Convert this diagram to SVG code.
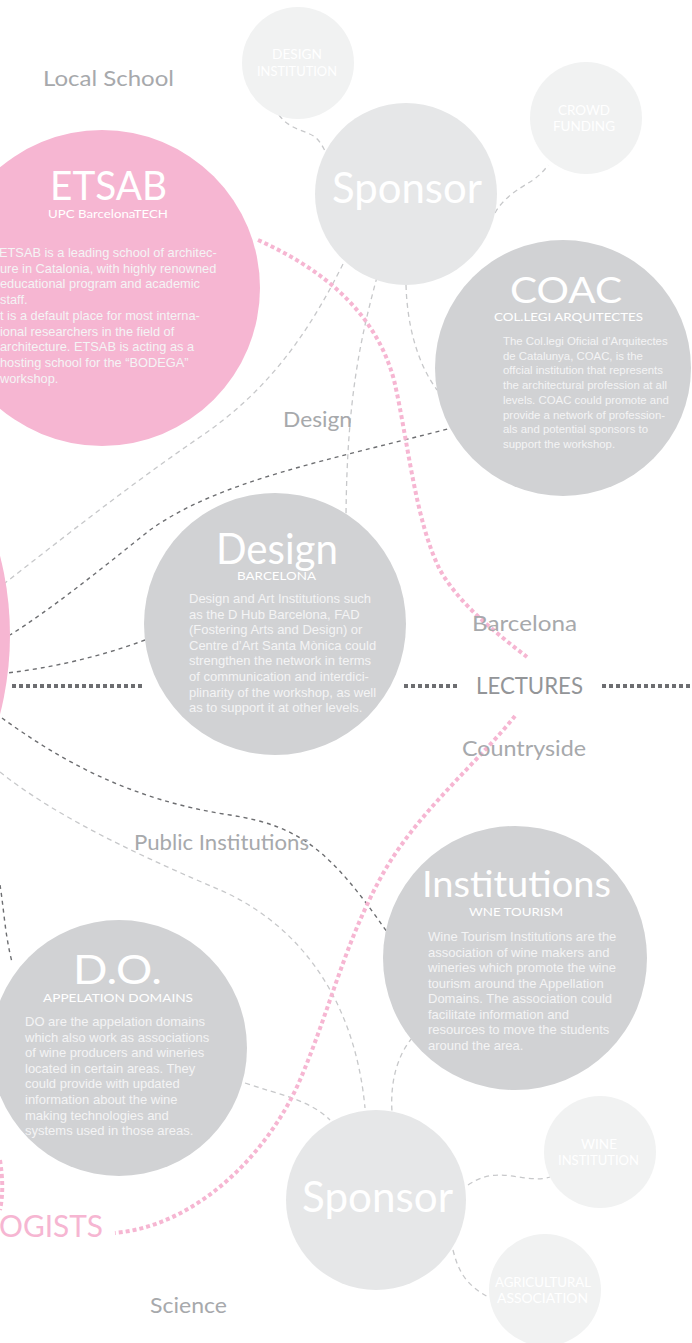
<svg xmlns="http://www.w3.org/2000/svg" width="692" height="1343" viewBox="0 0 692 1343">
<style>
.pink{fill:#f6b6d2}
.mid{fill:#d1d2d4}
.spon{fill:#e6e7e8}
.small{fill:#f1f2f2}
.head{font-family:Lato,"Open Sans",sans-serif;fill:#ffffff;text-anchor:middle}
.sub{font-family:Lato,"Open Sans",sans-serif;fill:#ffffff;text-anchor:middle}
.body{font-family:"Liberation Sans",Arial,sans-serif;fill:#f4f4f5}
.lbl{font-family:Lato,"Open Sans",sans-serif;fill:#a7a9ac;font-size:21px}
.tiny{font-family:Lato,"Open Sans",sans-serif;fill:#ffffff;font-size:13px;text-anchor:middle}
.dk{fill:none;stroke:#6d6e71;stroke-width:1.4;stroke-dasharray:4 4}
.lt{fill:none;stroke:#c7c8ca;stroke-width:1.3;stroke-dasharray:5 4}
.pk{fill:none;stroke:#f6b6d2;stroke-width:4;stroke-dasharray:4 3}
.lec{fill:none;stroke:#6d6e71;stroke-width:4;stroke-dasharray:4 3}
</style>
<rect width="692" height="1343" fill="#ffffff"/>
<g id="connectors">
<path class="lt" d="M343,264 C310,330 270,390 200,437 C130,485 60,540 5,583"/>
<path class="lt" d="M377,277 C360,340 347,400 346,516"/>
<path class="lt" d="M406,285 C407,320 415,360 437,390"/>
<path class="lt" d="M279,115 C290,130 305,130 315,137 C320,141 323,147 326,153"/>
<path class="lt" d="M495,213 C503,198 520,188 530,182 C538,177 544,171 548,165"/>
<path class="lt" d="M0,772 C60,820 150,860 220,890 C300,925 355,1000 365,1108"/>
<path class="lt" d="M245,1083 C280,1095 310,1100 330,1120"/>
<path class="lt" d="M412,1038 C398,1055 390,1080 392,1112"/>
<path class="lt" d="M468,1185 C480,1177 490,1175 500,1175 C515,1175 535,1182 550,1177"/>
<path class="lt" d="M453,1250 C458,1270 465,1285 490,1298"/>
<path class="dk" d="M455,427 C330,460 220,480 150,530 C100,570 50,610 10,635"/>
<path class="dk" d="M145,640 C100,657 50,668 7,673"/>
<path class="dk" d="M2,718 C60,760 130,800 230,815 C300,826 330,850 387,932"/>
<path class="dk" d="M0,885 C4,910 5,935 12,962"/>
<path class="pk" d="M258,240 C320,268 375,310 394,380 C408,440 415,520 440,570 C460,605 495,632 527,657"/>
<path class="pk" d="M515,716 C480,760 420,810 385,870 C345,940 330,1010 300,1080 C270,1150 200,1225 115,1233"/>
<path class="pk" d="M0,1160 C3,1180 3,1195 0,1210"/>
<path class="lec" d="M12,686 H143"/>
<path class="lec" d="M404,686 H458"/>
<path class="lec" d="M602,686 H692"/>
</g>
<g id="left-pink"><circle class="pink" cx="-310" cy="635" r="320"/></g>
<g id="etsab">
<circle class="pink" cx="102" cy="288" r="158"/>
<text class="head" x="108.5" y="200" font-size="40" textLength="117" lengthAdjust="spacingAndGlyphs">ETSAB</text>
<text class="sub" x="108" y="218" font-size="12" textLength="120" lengthAdjust="spacingAndGlyphs">UPC BarcelonaTECH</text>
<text class="body" font-size="12.8">
<tspan x="-1" y="257">ETSAB is a leading school of architec-</tspan>
<tspan x="0" y="272.7">ure in Catalonia, with highly renowned</tspan>
<tspan x="0" y="288.4">educational program and academic</tspan>
<tspan x="0" y="304.1">staff.</tspan>
<tspan x="0" y="319.8">t is a default place for most interna-</tspan>
<tspan x="0" y="335.5">ional researchers in the field of</tspan>
<tspan x="0" y="351.2">architecture. ETSAB is acting as a</tspan>
<tspan x="0" y="366.9">hosting school for the “BODEGA”</tspan>
<tspan x="0" y="382.6">workshop.</tspan>
</text>
</g>
<g id="design-institution">
<circle class="small" cx="298" cy="63" r="56"/>
<text class="tiny" x="297" y="59" textLength="50" lengthAdjust="spacingAndGlyphs">DESIGN</text>
<text class="tiny" x="297" y="76" textLength="80" lengthAdjust="spacingAndGlyphs">INSTITUTION</text>
</g>
<g id="crowd-funding">
<circle class="small" cx="586" cy="118" r="56"/>
<text class="tiny" x="584" y="115" textLength="52" lengthAdjust="spacingAndGlyphs">CROWD</text>
<text class="tiny" x="584" y="131" textLength="62" lengthAdjust="spacingAndGlyphs">FUNDING</text>
</g>
<g id="sponsor-top">
<circle class="spon" cx="406" cy="194" r="91"/>
<text class="head" x="407" y="203" font-size="43" textLength="150" lengthAdjust="spacingAndGlyphs">Sponsor</text>
</g>
<g id="coac">
<circle class="mid" cx="563" cy="368" r="128"/>
<text class="head" x="566" y="303" font-size="37" textLength="112" lengthAdjust="spacingAndGlyphs">COAC</text>
<text class="sub" x="568.5" y="321" font-size="11" textLength="149" lengthAdjust="spacingAndGlyphs">COL.LEGI ARQUITECTES</text>
<text class="body" font-size="11.4">
<tspan x="503" y="345">The Col.legi Oficial d’Arquitectes</tspan>
<tspan x="503" y="359.7">de Catalunya, COAC, is the</tspan>
<tspan x="503" y="374.4">offcial institution that represents</tspan>
<tspan x="503" y="389.1">the architectural profession at all</tspan>
<tspan x="503" y="403.8">levels. COAC could promote and</tspan>
<tspan x="503" y="418.5">provide a network of profession-</tspan>
<tspan x="503" y="433.2">als and potential sponsors to</tspan>
<tspan x="503" y="447.9">support the workshop.</tspan>
</text>
</g>
<g id="design">
<circle class="mid" cx="275" cy="624" r="131"/>
<text class="sub" x="276.5" y="580" font-size="11.5" textLength="79" lengthAdjust="spacingAndGlyphs">BARCELONA</text>
<text class="head" x="277" y="564" font-size="42" textLength="122" lengthAdjust="spacingAndGlyphs">Design</text>
<text class="body" font-size="13">
<tspan x="189" y="603">Design and Art Institutions such</tspan>
<tspan x="189" y="618.6">as the D Hub Barcelona, FAD</tspan>
<tspan x="189" y="634.2">(Fostering Arts and Design) or</tspan>
<tspan x="189" y="649.8">Centre d’Art Santa Mònica could</tspan>
<tspan x="189" y="665.4">strengthen the network in terms</tspan>
<tspan x="189" y="681">of communication and interdici-</tspan>
<tspan x="189" y="696.6">plinarity of the workshop, as well</tspan>
<tspan x="189" y="712.2">as to support it at other levels.</tspan>
</text>
</g>
<g id="institutions">
<circle class="mid" cx="515" cy="958" r="132"/>
<text class="head" x="516.5" y="897" font-size="37" textLength="189" lengthAdjust="spacingAndGlyphs">Institutions</text>
<text class="sub" x="516" y="916" font-size="11" textLength="94" lengthAdjust="spacingAndGlyphs">WNE TOURISM</text>
<text class="body" font-size="13">
<tspan x="428" y="941">Wine Tourism Institutions are the</tspan>
<tspan x="428" y="956.5">association of wine makers and</tspan>
<tspan x="428" y="972">wineries which promote the wine</tspan>
<tspan x="428" y="987.5">tourism around the Appellation</tspan>
<tspan x="428" y="1003">Domains. The association could</tspan>
<tspan x="428" y="1018.5">facilitate information and</tspan>
<tspan x="428" y="1034">resources to move the students</tspan>
<tspan x="428" y="1049.5">around the area.</tspan>
</text>
</g>
<g id="do">
<circle class="mid" cx="119" cy="1048" r="128"/>
<text class="head" x="117.5" y="984" font-size="40" textLength="89" lengthAdjust="spacingAndGlyphs">D.O.</text>
<text class="sub" x="118" y="1002" font-size="11.5" textLength="150" lengthAdjust="spacingAndGlyphs">APPELATION DOMAINS</text>
<text class="body" font-size="13">
<tspan x="25" y="1026">DO are the appelation domains</tspan>
<tspan x="25" y="1041.6">which also work as associations</tspan>
<tspan x="25" y="1057.2">of wine producers and wineries</tspan>
<tspan x="25" y="1072.8">located in certain areas. They</tspan>
<tspan x="25" y="1088.4">could provide with updated</tspan>
<tspan x="25" y="1104">information about the wine</tspan>
<tspan x="25" y="1119.6">making technologies and</tspan>
<tspan x="25" y="1135.2">systems used in those areas.</tspan>
</text>
</g>
<g id="sponsor-bottom">
<circle class="spon" cx="376" cy="1200" r="90"/>
<text class="head" x="377.5" y="1212" font-size="43" textLength="151" lengthAdjust="spacingAndGlyphs">Sponsor</text>
</g>
<g id="wine-institution">
<circle class="small" cx="600" cy="1152" r="56"/>
<text class="tiny" x="599" y="1149" textLength="36" lengthAdjust="spacingAndGlyphs">WINE</text>
<text class="tiny" x="598.5" y="1165" textLength="81" lengthAdjust="spacingAndGlyphs">INSTITUTION</text>
</g>
<g id="agricultural-association">
<circle class="small" cx="545" cy="1290" r="56"/>
<text class="tiny" x="543" y="1287" textLength="96" lengthAdjust="spacingAndGlyphs">AGRICULTURAL</text>
<text class="tiny" x="542.5" y="1303" textLength="91" lengthAdjust="spacingAndGlyphs">ASSOCIATION</text>
</g>
<g id="labels">
<text class="lbl" x="43" y="86" textLength="131" lengthAdjust="spacingAndGlyphs">Local School</text>
<text class="lbl" x="283" y="427" textLength="69" lengthAdjust="spacingAndGlyphs">Design</text>
<text class="lbl" x="472" y="631" textLength="105" lengthAdjust="spacingAndGlyphs">Barcelona</text>
<text class="lbl" x="476" y="694" style="font-size:24px;fill:#939598" textLength="107" lengthAdjust="spacingAndGlyphs">LECTURES</text>
<text class="lbl" x="462" y="756" textLength="124" lengthAdjust="spacingAndGlyphs">Countryside</text>
<text class="lbl" x="134" y="850" textLength="175" lengthAdjust="spacingAndGlyphs">Public Institutions</text>
<text class="lbl" x="150" y="1313" textLength="77" lengthAdjust="spacingAndGlyphs">Science</text>
<text class="lbl" x="-1" y="1237" style="font-size:30px;fill:#f6b6d2" textLength="104" lengthAdjust="spacingAndGlyphs">OGISTS</text>
</g>
</svg>
